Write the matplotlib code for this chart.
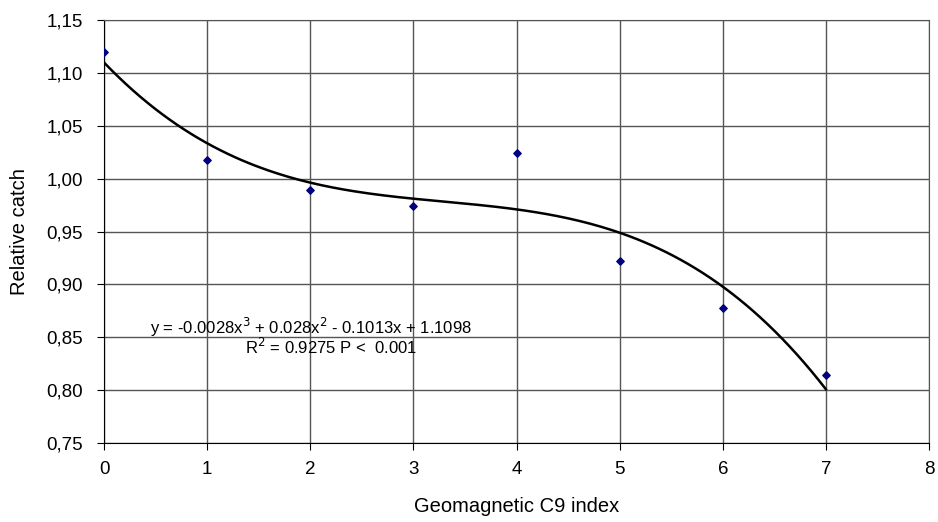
import numpy as np
import matplotlib.pyplot as plt

plt.rcParams['font.family'] = ['Liberation Sans', 'DejaVu Sans']

c9_index = [0, 1, 2, 3, 4, 5, 6, 7]
relative_catch = [1.120, 1.018, 0.989, 0.974, 1.024, 0.922, 0.878, 0.814]
y_ticks = [0.75, 0.80, 0.85, 0.90, 0.95, 1.00, 1.05, 1.10, 1.15]
x_ticks = [0, 1, 2, 3, 4, 5, 6, 7, 8]

fig = plt.figure(figsize=(9.38, 5.22), dpi=100)
ax = fig.add_axes([104 / 938, 1 - 443 / 522, 825 / 938, 423 / 522])

# cubic trendline fitted to the points
fit = np.polyfit(c9_index, relative_catch, 3)
xs = np.linspace(0, 7, 200)
ax.plot(xs, np.polyval(fit, xs), color='black', lw=1.8, zorder=3)

ax.scatter(c9_index, relative_catch, marker='D', s=14, color='#000080', zorder=4)

ax.set_xlim(0, 8)
ax.set_ylim(0.75, 1.15)
ax.set_xticks(x_ticks)
ax.set_yticks(y_ticks)
ax.set_yticklabels([f'{v:.2f}'.replace('.', ',') for v in y_ticks])
ax.grid(True, color='#555555', lw=1)
ax.set_axisbelow(True)
for s in ['top', 'right']:
    ax.spines[s].set_color('#555555')
for s in ['left', 'bottom']:
    ax.spines[s].set_color('black')
ax.tick_params(labelsize=13.5, length=5, direction='out')
ax.tick_params(axis='y', pad=10)
ax.tick_params(axis='x', pad=8)

ax.set_xlabel('Geomagnetic C9 index', fontsize=14.5, va='center')
ax.set_ylabel('Relative catch', fontsize=14.5, va='center')
ax.xaxis.set_label_coords(0.5, (443 - 507) / 423)
ax.yaxis.set_label_coords((20 - 104) / 825, 0.5)

ax.text(0.446, 0.8597, 'y = -0.0028x$^3$ + 0.028x$^2$ - 0.1013x + 1.1098',
        fontsize=12, va='center', ha='left')
ax.text(1.37, 0.8408, 'R$^2$ = 0.9275 P <  0.001', fontsize=12, va='center', ha='left')

fig.savefig('out.png', dpi=100)
